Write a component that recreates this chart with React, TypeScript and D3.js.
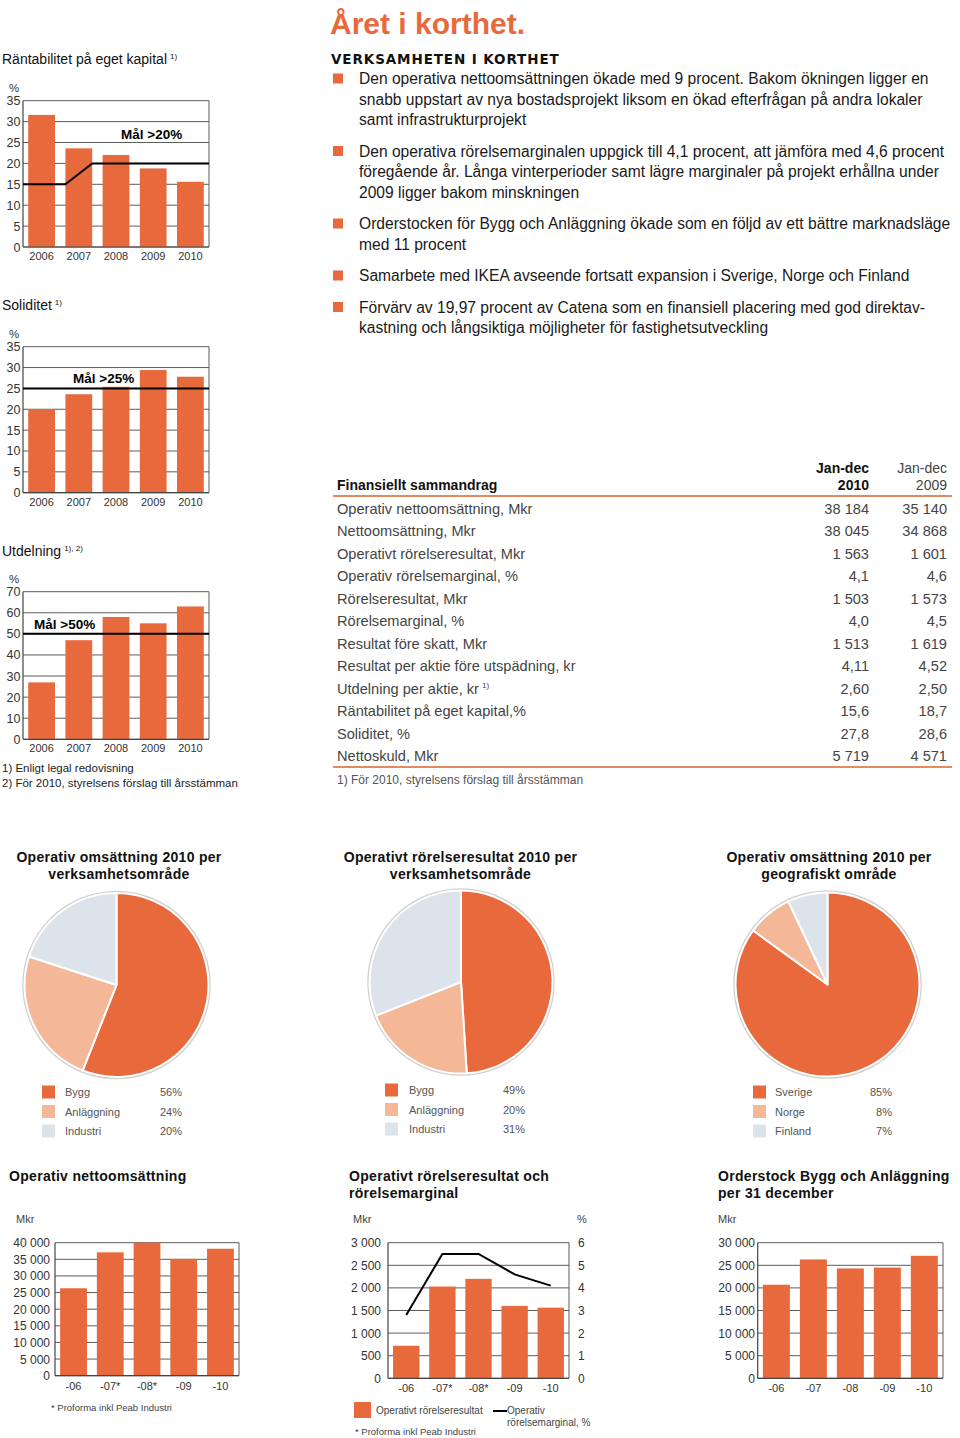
import React from "react";
import * as d3 from "d3";

const ORANGE = "#E8693B";
const LIGHT = "#F4B898";
const PALE = "#DDE3EA";
const GRID = "#5c5c5c";
const TXT = "#333";
const SANS = "'Liberation Sans', Arial, Helvetica, sans-serif";
const NARROW = "'Liberation Sans Narrow', 'Liberation Sans', Arial, sans-serif";

// ---------- data ----------
const years = ["2006", "2007", "2008", "2009", "2010"];
const roeValues = [31.6, 23.6, 22.0, 18.8, 15.6];
const roeTargetBefore = 15;
const roeTargetAfter = 20;
const roeTargetChangeYear = "2007";
const solidityValues = [20.0, 23.6, 25.4, 29.4, 27.8];
const solidityTarget = 25;
const dividendValues = [27, 47, 58, 55, 63];
const dividendTarget = 50;

const bulletParagraphs = [
  [
    "Den operativa nettoomsättningen ökade med 9 procent. Bakom ökningen ligger en",
    "snabb uppstart av nya bostadsprojekt liksom en ökad efterfrågan på andra lokaler",
    "samt infrastrukturprojekt",
  ],
  [
    "Den operativa rörelsemarginalen uppgick till 4,1 procent, att jämföra med 4,6 procent",
    "föregående år. Långa vinterperioder samt lägre marginaler på projekt erhållna under",
    "2009 ligger bakom minskningen",
  ],
  [
    "Orderstocken för Bygg och Anläggning ökade som en följd av ett bättre marknadsläge",
    "med 11 procent",
  ],
  ["Samarbete med IKEA avseende fortsatt expansion i Sverige, Norge och Finland"],
  [
    "Förvärv av 19,97 procent av Catena som en finansiell placering med god direktav-",
    "kastning och långsiktiga möjligheter för fastighetsutveckling",
  ],
];

const tableLabels = [
  "Operativ nettoomsättning, Mkr",
  "Nettoomsättning, Mkr",
  "Operativt rörelseresultat, Mkr",
  "Operativ rörelsemarginal, %",
  "Rörelseresultat, Mkr",
  "Rörelsemarginal, %",
  "Resultat före skatt, Mkr",
  "Resultat per aktie före utspädning, kr",
  "Utdelning per aktie, kr",
  "Räntabilitet på eget kapital,%",
  "Soliditet, %",
  "Nettoskuld, Mkr",
];
const tableSup = ["", "", "", "", "", "", "", "", "1)", "", "", ""];
const table2010 = ["38 184", "38 045", "1 563", "4,1", "1 503", "4,0", "1 513", "4,11", "2,60", "15,6", "27,8", "5 719"];
const table2009 = ["35 140", "34 868", "1 601", "4,6", "1 573", "4,5", "1 619", "4,52", "2,50", "18,7", "28,6", "4 571"];

const segmentLabels = ["Bygg", "Anläggning", "Industri"];
const salesBySegment = [56, 24, 20];
const profitBySegment = [49, 20, 31];
const regionLabels = ["Sverige", "Norge", "Finland"];
const salesByRegion = [85, 8, 7];

const periods = ["-06", "-07*", "-08*", "-09", "-10"];
const orderPeriods = ["-06", "-07", "-08", "-09", "-10"];
const netSales = [26300, 37100, 40000, 35140, 38184];
const opProfit = [720, 2030, 2200, 1601, 1563];
const opMargin = [2.8, 5.5, 5.5, 4.6, 4.1];
const orderStock = [20700, 26300, 24300, 24500, 27100];

const pieColors = [ORANGE, LIGHT, PALE];

const fmt = (v: number) => d3.format(",")(v).replace(/,/g, " ");

// ---------- components ----------
type SmallProps = {
  title: string;
  sup: string;
  titleY: number;
  top: number;
  bottom: number;
  max: number;
  values: number[];
  target: (x: d3.ScaleBand<string>, y: d3.ScaleLinear<number, number>, x0: number, x1: number) => [number, number][];
  label: string;
  labelAt: (x: d3.ScaleBand<string>, y: d3.ScaleLinear<number, number>) => [number, number];
};

function SmallBarChart({ title, sup, titleY, top, bottom, max, values, target, label, labelAt }: SmallProps) {
  const x0 = 23, x1 = 209;
  const x = d3.scaleBand<string>().domain(years).range([x0, x1]).paddingInner(0.28).paddingOuter(0.14);
  const y = d3.scaleLinear().domain([0, max]).range([bottom, top]);
  const ticks = y.ticks(7);
  const pts = target(x, y, x0, x1);
  const [lx, ly] = labelAt(x, y);
  return (
    <g fontFamily={SANS}>
      <text x={2} y={titleY} fontSize={14} fill="#111">
        {title}
        <tspan fontSize={8} dy={-5} dx={3}>{sup}</tspan>
      </text>
      <text x={9} y={y(max) - 9} fontSize={11.5} fill={TXT}>%</text>
      {ticks.map((t) => (
        <g key={t}>
          <line x1={x0} x2={x1} y1={y(t)} y2={y(t)} stroke={GRID} strokeWidth={1} />
          <text x={20.5} y={y(t) + 4.5} fontSize={12.5} fill={TXT} textAnchor="end">{t}</text>
        </g>
      ))}
      <line x1={x0} x2={x0} y1={y(max)} y2={y(0)} stroke="#444" strokeWidth={1.2} />
      <line x1={x1} x2={x1} y1={y(max)} y2={y(0)} stroke={GRID} strokeWidth={1} />
      {years.map((yr, i) => (
        <rect key={yr} x={x(yr)} y={y(values[i])} width={x.bandwidth()} height={y(0) - y(values[i])} fill={ORANGE} />
      ))}
      <line x1={x0} x2={x1} y1={y(0)} y2={y(0)} stroke="#444" strokeWidth={1.2} />
      <path d={d3.line()(pts) || ""} fill="none" stroke="#000" strokeWidth={2} />
      <text x={lx} y={ly} fontSize={13.5} fontWeight="bold" fill="#000">{label}</text>
      {years.map((yr) => (
        <text key={yr} x={(x(yr) as number) + x.bandwidth() / 2} y={y(0) + 13} fontSize={11} fill={TXT} textAnchor="middle">{yr}</text>
      ))}
    </g>
  );
}

type PieProps = {
  cx: number; cy: number; r: number;
  titleLines: string[]; titleX: number;
  labels: string[]; values: number[];
  sqX: number; labX: number; pctX: number; pctAnchor: string; rowY0: number;
};

function PieBlock({ cx, cy, r, titleLines, titleX, labels, values, sqX, labX, pctX, pctAnchor, rowY0 }: PieProps) {
  const arcs = d3.pie<number>().sort(null).value((d) => d)(values);
  const arc = d3.arc<d3.PieArcDatum<number>>().innerRadius(0).outerRadius(r);
  return (
    <g fontFamily={SANS}>
      {titleLines.map((t, i) => (
        <text key={i} x={titleX} y={857 + 5 + i * 16.5} fontSize={14} fontWeight="bold" letterSpacing={0.3} textAnchor="middle" fill="#111">{t}</text>
      ))}
      <circle cx={cx} cy={cy} r={r + 1} fill="none" stroke="#cfcfcf" strokeWidth={2.5} />
      <g transform={`translate(${cx},${cy})`}>
        {arcs.map((a, i) => (
          <path key={i} d={arc(a) || ""} fill={pieColors[i]} stroke="#fff" strokeWidth={2} strokeLinejoin="round" />
        ))}
      </g>
      {labels.map((l, i) => {
        const yc = rowY0 + i * 19.5;
        return (
          <g key={l}>
            <rect x={sqX} y={yc - 6.5} width={13} height={13} fill={pieColors[i]} />
            <text x={labX} y={yc + 4} fontSize={11} fill="#555">{l}</text>
            <text x={pctX} y={yc + 4} fontSize={11} fill="#555" textAnchor={pctAnchor}>{values[i]}%</text>
          </g>
        );
      })}
    </g>
  );
}

type ColProps = {
  x0: number; x1: number; top: number; bottom: number; max: number;
  cats: string[]; values: number[]; labelX: number;
};

function bandFor(cats: string[], x0: number, x1: number) {
  return d3.scaleBand<string>().domain(cats).range([x0, x1]).paddingInner(0.27).paddingOuter(0.14);
}

function ColumnChart({ x0, x1, top, bottom, max, cats, values, labelX, children }: ColProps & { children?: React.ReactNode }) {
  const x = bandFor(cats, x0, x1);
  const y = d3.scaleLinear().domain([0, max]).range([bottom, top]);
  const ticks = y.ticks(6);
  return (
    <g fontFamily={SANS}>
      {ticks.map((t) => (
        <g key={t}>
          <line x1={x0} x2={x1} y1={y(t)} y2={y(t)} stroke={GRID} strokeWidth={1} />
          <text x={labelX} y={y(t) + 4.5} fontSize={12} fill={TXT} textAnchor="end">{fmt(t)}</text>
        </g>
      ))}
      <line x1={x0} x2={x0} y1={y(max)} y2={y(0)} stroke="#444" strokeWidth={1.2} />
      <line x1={x1} x2={x1} y1={y(max)} y2={y(0)} stroke={GRID} strokeWidth={1} />
      {cats.map((c, i) => (
        <rect key={c} x={x(c)} y={y(values[i])} width={x.bandwidth()} height={y(0) - y(values[i])} fill={ORANGE} />
      ))}
      <line x1={x0} x2={x1} y1={y(0)} y2={y(0)} stroke="#444" strokeWidth={1.2} />
      {cats.map((c) => (
        <text key={c} x={(x(c) as number) + x.bandwidth() / 2} y={bottom + 14} fontSize={11} fill={TXT} textAnchor="middle">{c}</text>
      ))}
      {children}
    </g>
  );
}

export default function App() {
  // bullets layout
  let yCursor = 79;
  const bulletEls: React.ReactNode[] = [];
  bulletParagraphs.forEach((p, pi) => {
    bulletEls.push(<rect key={"b" + pi} x={333} y={yCursor - 5.5} width={10} height={10} fill={ORANGE} />);
    p.forEach((line, li) => {
      bulletEls.push(
        <text key={pi + "-" + li} x={359} y={yCursor + 5} fontSize={15.6} fill="#1a1a1a">{line}</text>
      );
      yCursor += 20.5;
    });
    yCursor += 11;
  });

  // chart B (profit + margin)
  const bx0 = 388, bx1 = 569, bTop = 1242.7, bBot = 1378.3;
  const bX = bandFor(periods, bx0, bx1);
  const yRight = d3.scaleLinear().domain([0, 6]).range([bBot, bTop]);
  const marginLine = d3.line<number>()
    .x((_, i) => (bX(periods[i]) as number) + bX.bandwidth() / 2)
    .y((d) => yRight(d))(opMargin) || "";

  return (
    <svg width={960} height={1438} style={{ position: "absolute", left: 0, top: 0, background: "#fff" }} fontFamily={SANS}>
      <rect width={960} height={1438} fill="#fff" />

      {/* Left column small charts */}
      <SmallBarChart
        title="Räntabilitet på eget kapital" sup="1)" titleY={64}
        top={100.7} bottom={247} max={35} values={roeValues}
        target={(x, y, x0, x1) => [
          [x0, y(roeTargetBefore)],
          [x(roeTargetChangeYear) as number, y(roeTargetBefore)],
          [(x(roeTargetChangeYear) as number) + x.bandwidth(), y(roeTargetAfter)],
          [x1, y(roeTargetAfter)],
        ]}
        label="Mål >20%" labelAt={(x, y) => [121, y(roeTargetAfter) - 24]}
      />
      <SmallBarChart
        title="Soliditet" sup="1)" titleY={310}
        top={346.7} bottom={492.7} max={35} values={solidityValues}
        target={(x, y, x0, x1) => [[x0, y(solidityTarget)], [x1, y(solidityTarget)]]}
        label="Mål >25%" labelAt={(x, y) => [73, y(solidityTarget) - 5]}
      />
      <SmallBarChart
        title="Utdelning" sup="1), 2)" titleY={556}
        top={591.7} bottom={739.3} max={70} values={dividendValues}
        target={(x, y, x0, x1) => [[x0, y(dividendTarget)], [x1, y(dividendTarget)]]}
        label="Mål >50%" labelAt={(x, y) => [34, y(dividendTarget) - 5]}
      />
      <text x={2} y={772} fontSize={11.5} fill="#222">1) Enligt legal redovisning</text>
      <text x={2} y={787} fontSize={11.5} fill="#222">2) För 2010, styrelsens förslag till årsstämman</text>

      {/* Header text */}
      <text x={330} y={34} fontSize={30} fontWeight="bold" fill={ORANGE}>Året i korthet.</text>
      <text x={331} y={64} fontSize={13.5} fontWeight="bold" fontFamily="'DejaVu Sans', sans-serif" letterSpacing={0.9} fill="#111">VERKSAMHETEN I KORTHET</text>
      {bulletEls}

      {/* Table */}
      <g fontFamily={NARROW}>
        <text x={869} y={473} fontSize={14} fontWeight="bold" textAnchor="end" fill="#111">Jan-dec</text>
        <text x={869} y={490} fontSize={14} fontWeight="bold" textAnchor="end" fill="#111">2010</text>
        <text x={947} y={473} fontSize={14} textAnchor="end" fill="#444">Jan-dec</text>
        <text x={947} y={490} fontSize={14} textAnchor="end" fill="#444">2009</text>
        <text x={337} y={490} fontSize={14} fontWeight="bold" fill="#111">Finansiellt sammandrag</text>
        <line x1={333} x2={952} y1={496} y2={496} stroke="#E08B62" strokeWidth={2} />
        {tableLabels.map((l, i) => {
          const yb = 509 + i * 22.45 + 5;
          return (
            <g key={l}>
              <text x={337} y={yb} fontSize={14.6} fill="#444">
                {l}
                {tableSup[i] ? <tspan fontSize={8} dy={-6} dx={3}>{tableSup[i]}</tspan> : null}
              </text>
              <text x={869} y={yb} fontSize={14.6} fill="#444" textAnchor="end">{table2010[i]}</text>
              <text x={947} y={yb} fontSize={14.6} fill="#444" textAnchor="end">{table2009[i]}</text>
            </g>
          );
        })}
        <line x1={333} x2={952} y1={767} y2={767} stroke="#E08B62" strokeWidth={2} />
        <text x={337} y={784} fontSize={12} fill="#555">1) För 2010, styrelsens förslag till årsstämman</text>
      </g>

      {/* Pies */}
      <PieBlock cx={116.5} cy={985} r={92} titleLines={["Operativ omsättning 2010 per", "verksamhetsområde"]} titleX={119}
        labels={segmentLabels} values={salesBySegment} sqX={42} labX={65} pctX={160} pctAnchor="start" rowY0={1092} />
      <PieBlock cx={461} cy={982} r={91.5} titleLines={["Operativt rörelseresultat 2010 per", "verksamhetsområde"]} titleX={460.5}
        labels={segmentLabels} values={profitBySegment} sqX={385} labX={409} pctX={503} pctAnchor="start" rowY0={1090} />
      <PieBlock cx={827.5} cy={984.5} r={92} titleLines={["Operativ omsättning 2010 per", "geografiskt område"]} titleX={829}
        labels={regionLabels} values={salesByRegion} sqX={753} labX={775} pctX={892} pctAnchor="end" rowY0={1092} />

      {/* Bottom charts */}
      <g fontFamily={SANS}>
        <text x={9} y={1181} fontSize={14} fontWeight="bold" letterSpacing={0.3} fill="#111">Operativ nettoomsättning</text>
        <text x={16} y={1223} fontSize={11} fill="#444">Mkr</text>
        <text x={51} y={1411} fontSize={9.5} fill="#444">* Proforma inkl Peab Industri</text>

        <text x={349} y={1181} fontSize={14} fontWeight="bold" letterSpacing={0.3} fill="#111">Operativt rörelseresultat och</text>
        <text x={349} y={1198} fontSize={14} fontWeight="bold" letterSpacing={0.3} fill="#111">rörelsemarginal</text>
        <text x={353} y={1223} fontSize={11} fill="#444">Mkr</text>
        <text x={577} y={1223} fontSize={11} fill="#444">%</text>

        <text x={718} y={1181} fontSize={14} fontWeight="bold" letterSpacing={0.3} fill="#111">Orderstock Bygg och Anläggning</text>
        <text x={718} y={1198} fontSize={14} fontWeight="bold" letterSpacing={0.3} fill="#111">per 31 december</text>
        <text x={718} y={1223} fontSize={11} fill="#444">Mkr</text>
      </g>

      <ColumnChart x0={55} x1={239} top={1242.7} bottom={1375.7} max={40000} cats={periods} values={netSales} labelX={50} />

      <ColumnChart x0={bx0} x1={bx1} top={bTop} bottom={bBot} max={3000} cats={periods} values={opProfit} labelX={381}>
        {yRight.ticks(6).map((t) => (
          <text key={t} x={578} y={yRight(t) + 4.5} fontSize={12} fill={TXT} fontFamily={SANS}>{t}</text>
        ))}
        <path d={marginLine} fill="none" stroke="#000" strokeWidth={2} />
      </ColumnChart>

      <ColumnChart x0={757.7} x1={943} top={1242.7} bottom={1378.3} max={30000} cats={orderPeriods} values={orderStock} labelX={755} />

      {/* chart B legend */}
      <g fontFamily={SANS}>
        <rect x={354} y={1402} width={17} height={16} fill={ORANGE} />
        <text x={376} y={1414} fontSize={10} fill="#444">Operativt rörelseresultat</text>
        <line x1={493} x2={507} y1={1411} y2={1411} stroke="#000" strokeWidth={2} />
        <text x={507} y={1414} fontSize={10} fill="#444">Operativ</text>
        <text x={507} y={1426} fontSize={10} fill="#444">rörelsemarginal, %</text>
        <text x={355} y={1435} fontSize={9.5} fill="#444">* Proforma inkl Peab Industri</text>
      </g>
    </svg>
  );
}
